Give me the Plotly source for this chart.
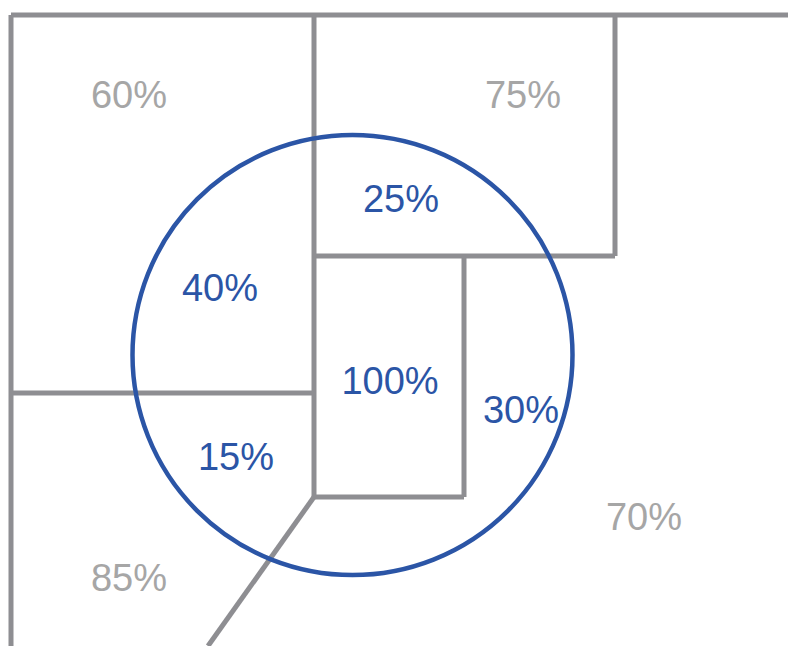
import plotly.graph_objects as go

# region borders (diagram coordinates, y grows downward)
border_x = [
    [11, 788],          # top edge
    [11, 11],           # left edge
    [314, 314],         # middle divider
    [615, 615],         # right box side
    [314, 615],         # right box bottom
    [11, 314],          # left divider
    [464, 464],         # inner box side
    [314, 464],         # inner box bottom
    [314, 208],         # diagonal
]
border_y = [
    [15, 15],
    [15, 646],
    [15, 497],
    [15, 256],
    [256, 256],
    [393, 393],
    [256, 497],
    [497, 497],
    [497, 646],
]

# circle
circle_cx, circle_cy, circle_r = 352.5, 355, 220

# labels
outer_labels = ['60%', '75%', '70%', '85%']
outer_x = [129, 523, 644, 129]
outer_y = [98, 98, 520, 581]

inner_labels = ['25%', '40%', '100%', '30%', '15%']
inner_x = [401, 220, 390, 521, 236]
inner_y = [202, 291, 384, 413, 460]

gray = '#8e8e92'
blue = '#2b55a6'

fig = go.Figure()

for xs, ys in zip(border_x, border_y):
    fig.add_trace(go.Scatter(x=xs, y=ys, mode='lines',
                             line=dict(color=gray, width=5),
                             hoverinfo='skip'))

fig.add_shape(type='circle', xref='x', yref='y',
              x0=circle_cx - circle_r, x1=circle_cx + circle_r,
              y0=circle_cy - circle_r, y1=circle_cy + circle_r,
              line=dict(color=blue, width=4.5))

fig.add_trace(go.Scatter(x=outer_x, y=outer_y, mode='text', text=outer_labels,
                         textfont=dict(family='Liberation Sans, Arial', size=38, color='#a6a6a6')))
fig.add_trace(go.Scatter(x=inner_x, y=inner_y, mode='text', text=inner_labels,
                         textfont=dict(family='Liberation Sans, Arial', size=38, color=blue)))

fig.update_layout(width=788, height=646,
                  margin=dict(l=0, r=0, t=0, b=0),
                  plot_bgcolor='white', paper_bgcolor='white',
                  showlegend=False)
fig.update_xaxes(range=[0, 788], visible=False, showgrid=False, zeroline=False)
fig.update_yaxes(range=[646, 0], visible=False, showgrid=False, zeroline=False)

# drop the default page margin so the figure sits at the window corner
fig.write_html("out.html", config={'displayModeBar': False},
               post_script="document.body.style.margin='0';document.body.style.overflow='hidden';")
